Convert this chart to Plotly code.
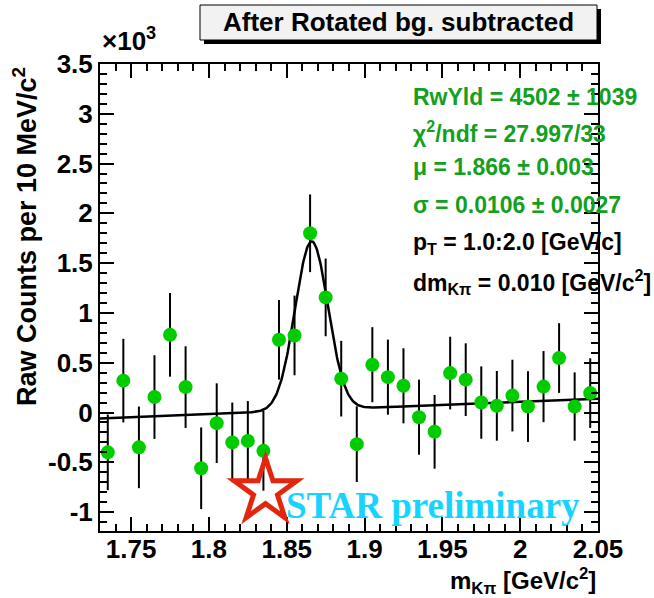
import numpy as np
import plotly.graph_objects as go

# ---------------- data (counts in units of 10^3) ----------------
mass = [1.735, 1.745, 1.755, 1.765, 1.775, 1.785, 1.795, 1.805, 1.815, 1.825,
        1.835, 1.845, 1.855, 1.865, 1.875, 1.885, 1.895, 1.905, 1.915, 1.925,
        1.935, 1.945, 1.955, 1.965, 1.975, 1.985, 1.995, 2.005, 2.015, 2.025,
        2.035, 2.045]
counts = [-0.40, 0.32, -0.35, 0.155, 0.78, 0.255, -0.56, -0.107, -0.30, -0.285,
          -0.385, 0.73, 0.774, 1.80, 1.156, 0.34, -0.318, 0.48, 0.355, 0.268,
          -0.047, -0.194, 0.396, 0.33, 0.10, 0.067, 0.17, 0.06, 0.26, 0.547,
          0.06, 0.195]
errors = [0.38, 0.42, 0.41, 0.42, 0.42, 0.41, 0.41, 0.40, 0.40, 0.40,
          0.40, 0.40, 0.40, 0.39, 0.39, 0.38, 0.38, 0.377, 0.377, 0.377,
          0.377, 0.37, 0.365, 0.365, 0.363, 0.35, 0.36, 0.355, 0.357, 0.35,
          0.343, 0.35]

# fit parameters
RWYLD = 4502.0
MU = 1.866
SIGMA = 0.0106
BINW = 0.010
BG0 = -0.06     # background at x = 1.73 (x10^3)
BG1 = 0.62      # background slope

xticks = [1.75, 1.8, 1.85, 1.9, 1.95, 2.0, 2.05]
xticktext = ["1.75", "1.8", "1.85", "1.9", "1.95", "2", "2.05"]
yticks = [-1, -0.5, 0, 0.5, 1, 1.5, 2, 2.5, 3, 3.5]
yticktext = ["-1", "-0.5", "0", "0.5", "1", "1.5", "2", "2.5", "3", "3.5"]

stats_green = ["RwYld = 4502 ± 1039",
               "χ<sup>2</sup>/ndf = 27.997/33",
               "μ = 1.866 ± 0.003",
               "σ = 0.0106 ± 0.0027"]
stats_black = ["p<sub>T</sub> = 1.0:2.0 [GeV/c]",
               "dm<sub>Kπ</sub> = 0.010 [GeV/c<sup>2</sup>]"]

# ---------------- layout geometry ----------------
W, H = 654, 598
L, R, T, B = 100, 56, 64, 67
PW, PH = W - L - R, H - T - B


def px(x):
    return (x - L) / PW


def py(y):
    return (H - B - y) / PH


FONT = "Liberation Sans"

# fit curve
amp = RWYLD * BINW / (np.sqrt(2 * np.pi) * SIGMA) / 1000.0
xf = np.linspace(1.73, 2.05, 600)
yf = BG0 + BG1 * (xf - 1.73) + amp * np.exp(-0.5 * ((xf - MU) / SIGMA) ** 2)

fig = go.Figure()
fig.add_trace(go.Scatter(x=xf, y=yf, mode="lines",
                         line=dict(color="black", width=2.5),
                         hoverinfo="skip", showlegend=False))
fig.add_trace(go.Scatter(x=mass, y=counts, mode="markers",
                         marker=dict(color="#00cc00", size=14, line=dict(width=0)),
                         error_y=dict(type="data", array=errors, color="black",
                                      thickness=2, width=0),
                         showlegend=False))

axis_common = dict(showline=True, linecolor="black", linewidth=2, mirror="allticks",
                   ticks="inside", ticklen=14, tickwidth=1.5, tickcolor="black",
                   showgrid=False, zeroline=False,
                   tickfont=dict(family=FONT, size=26, color="black", weight="bold"))

fig.update_xaxes(range=[1.73, 2.05], tickvals=xticks, ticktext=xticktext,
                 ticklabelstandoff=-6,
                 minor=dict(dtick=0.01, tick0=1.75, ticks="inside", ticklen=7,
                            tickwidth=1.5, tickcolor="black", showgrid=False),
                 **axis_common)
fig.update_yaxes(range=[-1.19, 3.5], tickvals=yticks, ticktext=yticktext,
                 minor=dict(dtick=0.1, tick0=0, ticks="inside", ticklen=7,
                            tickwidth=1.5, tickcolor="black", showgrid=False),
                 **axis_common)

shapes = []
# title box shadow + box
shapes.append(dict(type="rect", xref="paper", yref="paper",
                   x0=px(204), x1=px(601), y0=py(44), y1=py(9),
                   fillcolor="black", line=dict(width=0), layer="above"))
shapes.append(dict(type="rect", xref="paper", yref="paper",
                   x0=px(200), x1=px(597), y0=py(40), y1=py(5),
                   fillcolor="#f2f2f2", line=dict(color="black", width=1), layer="above"))
# STAR logo star outline
cx, cy, Ro = 265.5, 491.0, 33.0
Ri = Ro * 0.382
pts = []
for k in range(10):
    ang = -np.pi / 2 + k * np.pi / 5
    rr = Ro if k % 2 == 0 else Ri
    pts.append((px(cx + rr * np.cos(ang)), py(cy + rr * np.sin(ang))))
path = "M " + " L ".join(f"{a:.5f},{b:.5f}" for a, b in pts) + " Z"
shapes.append(dict(type="path", xref="paper", yref="paper", path=path,
                   line=dict(color="#e3260e", width=5), fillcolor="rgba(0,0,0,0)",
                   layer="above"))

ann = []
ann.append(dict(text="After Rotated bg. subtracted", xref="paper", yref="paper",
                x=px(398.5), y=py(22), xanchor="center", yanchor="middle", showarrow=False,
                font=dict(family=FONT, size=26, color="black", weight="bold")))
ann.append(dict(text="×10<sup>3</sup>", xref="paper", yref="paper",
                x=px(100), y=py(58), xanchor="left", yanchor="bottom", showarrow=False,
                font=dict(family=FONT, size=26, color="black", weight="bold")))
ann.append(dict(text="Raw Counts per 10 MeV/c<sup>2</sup>", xref="paper", yref="paper",
                x=px(25), y=py(237), xanchor="center", yanchor="middle", textangle=-90,
                showarrow=False,
                font=dict(family=FONT, size=27, color="black", weight="bold")))
ann.append(dict(text="m<sub>Kπ</sub> [GeV/c<sup>2</sup>]", xref="paper", yref="paper",
                x=px(598), y=py(581), xanchor="right", yanchor="middle", showarrow=False,
                font=dict(family=FONT, size=24, color="black", weight="bold")))
ys = [97, 132, 167, 205, 243, 282]
for i, t in enumerate(stats_green + stats_black):
    col = "#12a01e" if i < len(stats_green) else "black"
    ann.append(dict(text=t, xref="paper", yref="paper", x=px(411), y=py(ys[i]),
                    xanchor="left", yanchor="middle", showarrow=False,
                    font=dict(family=FONT, size=23, color=col, weight="bold")))
ann.append(dict(text="STAR preliminary", xref="paper", yref="paper",
                x=px(284), y=py(505), xanchor="left", yanchor="middle", showarrow=False,
                font=dict(family="Liberation Serif", size=37, color="#17d4ff", weight="bold")))

fig.update_layout(width=W, height=H, margin=dict(l=L, r=R, t=T, b=B),
                  plot_bgcolor="white", paper_bgcolor="white",
                  showlegend=False, shapes=shapes, annotations=ann)

fig.write_html("out.html")
